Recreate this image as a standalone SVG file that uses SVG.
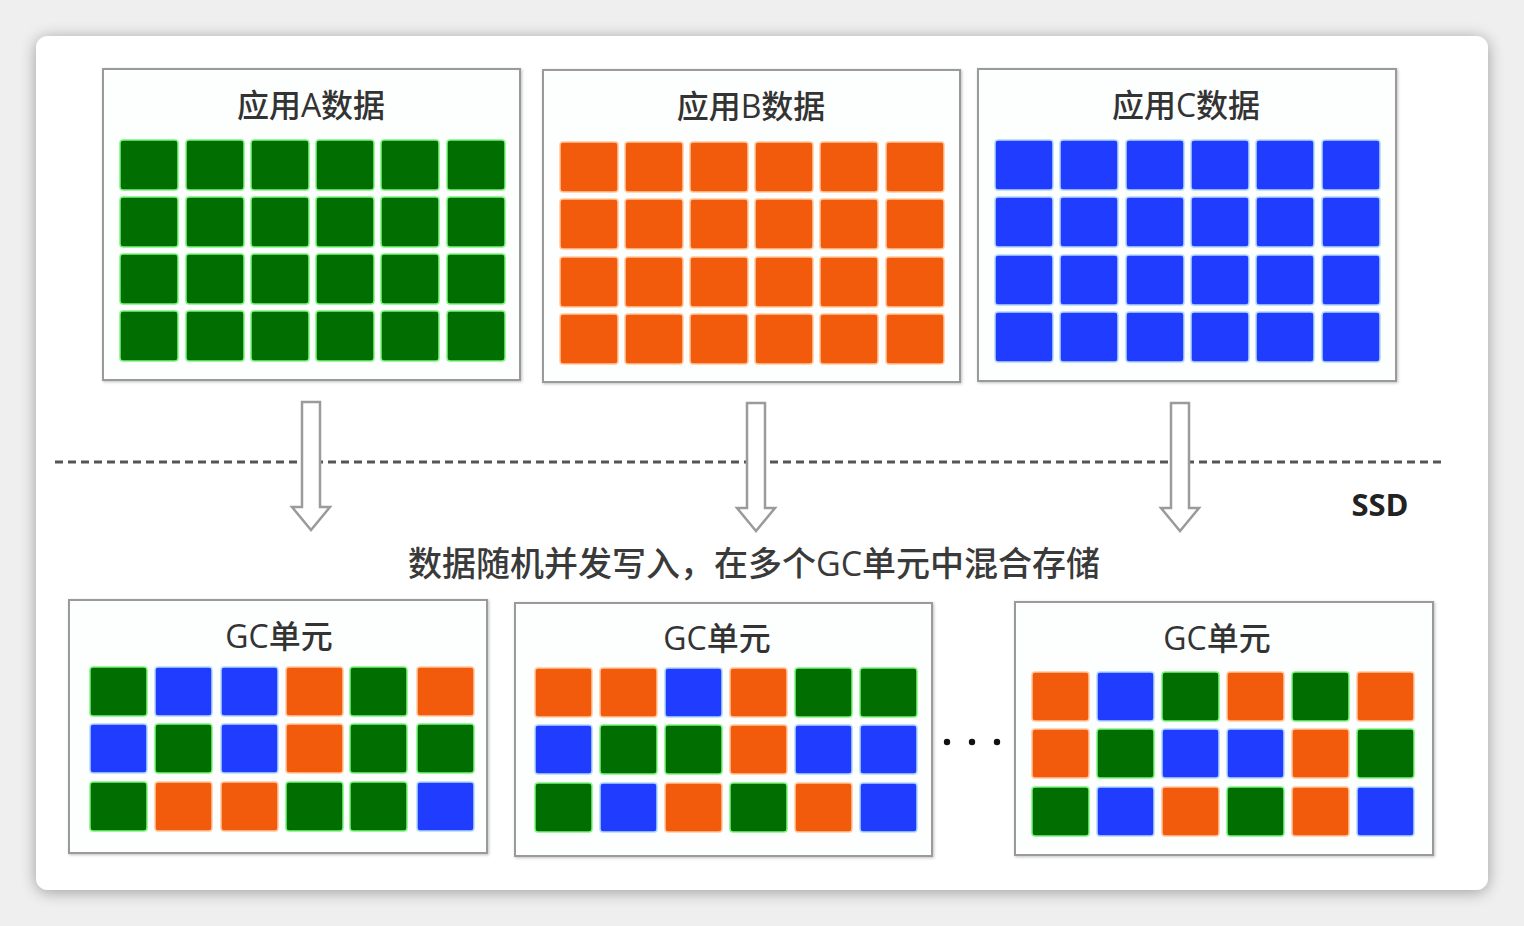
<svg xmlns="http://www.w3.org/2000/svg" width="1524" height="926" viewBox="0 0 1524 926">
<defs>
<filter id="sh" x="-5%" y="-5%" width="110%" height="110%">
<feGaussianBlur in="SourceAlpha" stdDeviation="8"/>
<feOffset dy="2"/>
<feComponentTransfer><feFuncA type="linear" slope="0.35"/></feComponentTransfer>
<feMerge><feMergeNode/><feMergeNode in="SourceGraphic"/></feMerge>
</filter>
<filter id="bs" x="-5%" y="-5%" width="110%" height="110%">
<feGaussianBlur in="SourceAlpha" stdDeviation="1.5"/>
<feOffset dx="1" dy="1"/>
<feComponentTransfer><feFuncA type="linear" slope="0.25"/></feComponentTransfer>
<feMerge><feMergeNode/><feMergeNode in="SourceGraphic"/></feMerge>
</filter>
</defs>
<style>
.box{fill:#fdfefe;stroke:#9a9a9a;stroke-width:2}
.g{fill:#006e00;stroke:#7cf57c;stroke-width:1.5}
.o{fill:#f25a0c;stroke:#ffc79a;stroke-width:1.5}
.b{fill:#1f3cff;stroke:#b0d8ff;stroke-width:1.5}
.t{font-family:"Open Sans","Noto Sans CJK SC",sans-serif;fill:#333;text-anchor:middle}
.title{font-size:32px;font-weight:500}
.arrow{fill:#fff;stroke:#9b9b9b;stroke-width:2.5}
.dash{stroke:#555;stroke-width:3;stroke-dasharray:8 5;fill:none}
</style>
<rect x="0" y="0" width="1524" height="926" fill="#efefef"/>
<rect id="card" x="36" y="36" width="1452" height="854" rx="12" fill="#ffffff" filter="url(#sh)"/>

<g id="connectors">
<line class="dash" x1="55" y1="462" x2="1442" y2="462"/>
<path class="arrow" d="M302,402 H320 V507 H330 L311,530 L292,507 H302 Z"/>
<path class="arrow" d="M747,403 H765 V508 H775 L756,531 L737,508 H747 Z"/>
<path class="arrow" d="M1171,403 H1189 V508 H1199 L1180,531 L1161,508 H1171 Z"/>
</g>

<g id="ssd-label"><text class="t" x="1380" y="516" font-size="31" font-weight="bold" style="fill:#222">SSD</text></g>
<g id="caption"><text class="t" x="754" y="576" font-size="34" font-weight="500" style="fill:#3a3a3a">数据随机并发写入，在多个GC单元中混合存储</text></g>

<g id="appA">
<rect class="box" x="103" y="69" width="417" height="311" filter="url(#bs)"/>
<text class="t title" x="311" y="117">应用A数据</text>
<g>
<rect class="g" x="120" y="140" width="58" height="50" rx="3"/><rect class="g" x="186" y="140" width="58" height="50" rx="3"/><rect class="g" x="251" y="140" width="58" height="50" rx="3"/><rect class="g" x="316" y="140" width="58" height="50" rx="3"/><rect class="g" x="381" y="140" width="58" height="50" rx="3"/><rect class="g" x="447" y="140" width="58" height="50" rx="3"/>
<rect class="g" x="120" y="197" width="58" height="50" rx="3"/><rect class="g" x="186" y="197" width="58" height="50" rx="3"/><rect class="g" x="251" y="197" width="58" height="50" rx="3"/><rect class="g" x="316" y="197" width="58" height="50" rx="3"/><rect class="g" x="381" y="197" width="58" height="50" rx="3"/><rect class="g" x="447" y="197" width="58" height="50" rx="3"/>
<rect class="g" x="120" y="254" width="58" height="50" rx="3"/><rect class="g" x="186" y="254" width="58" height="50" rx="3"/><rect class="g" x="251" y="254" width="58" height="50" rx="3"/><rect class="g" x="316" y="254" width="58" height="50" rx="3"/><rect class="g" x="381" y="254" width="58" height="50" rx="3"/><rect class="g" x="447" y="254" width="58" height="50" rx="3"/>
<rect class="g" x="120" y="311" width="58" height="50" rx="3"/><rect class="g" x="186" y="311" width="58" height="50" rx="3"/><rect class="g" x="251" y="311" width="58" height="50" rx="3"/><rect class="g" x="316" y="311" width="58" height="50" rx="3"/><rect class="g" x="381" y="311" width="58" height="50" rx="3"/><rect class="g" x="447" y="311" width="58" height="50" rx="3"/>
</g>
</g>

<g id="appB">
<rect class="box" x="543" y="70" width="417" height="312" filter="url(#bs)"/>
<text class="t title" x="751" y="118">应用B数据</text>
<g>
<rect class="o" x="560" y="142" width="58" height="50" rx="3"/><rect class="o" x="625" y="142" width="58" height="50" rx="3"/><rect class="o" x="690" y="142" width="58" height="50" rx="3"/><rect class="o" x="755" y="142" width="58" height="50" rx="3"/><rect class="o" x="820" y="142" width="58" height="50" rx="3"/><rect class="o" x="886" y="142" width="58" height="50" rx="3"/>
<rect class="o" x="560" y="199" width="58" height="50" rx="3"/><rect class="o" x="625" y="199" width="58" height="50" rx="3"/><rect class="o" x="690" y="199" width="58" height="50" rx="3"/><rect class="o" x="755" y="199" width="58" height="50" rx="3"/><rect class="o" x="820" y="199" width="58" height="50" rx="3"/><rect class="o" x="886" y="199" width="58" height="50" rx="3"/>
<rect class="o" x="560" y="257" width="58" height="50" rx="3"/><rect class="o" x="625" y="257" width="58" height="50" rx="3"/><rect class="o" x="690" y="257" width="58" height="50" rx="3"/><rect class="o" x="755" y="257" width="58" height="50" rx="3"/><rect class="o" x="820" y="257" width="58" height="50" rx="3"/><rect class="o" x="886" y="257" width="58" height="50" rx="3"/>
<rect class="o" x="560" y="314" width="58" height="50" rx="3"/><rect class="o" x="625" y="314" width="58" height="50" rx="3"/><rect class="o" x="690" y="314" width="58" height="50" rx="3"/><rect class="o" x="755" y="314" width="58" height="50" rx="3"/><rect class="o" x="820" y="314" width="58" height="50" rx="3"/><rect class="o" x="886" y="314" width="58" height="50" rx="3"/>
</g>
</g>

<g id="appC">
<rect class="box" x="978" y="69" width="418" height="312" filter="url(#bs)"/>
<text class="t title" x="1186" y="117">应用C数据</text>
<g>
<rect class="b" x="995" y="140" width="58" height="50" rx="3"/><rect class="b" x="1060" y="140" width="58" height="50" rx="3"/><rect class="b" x="1126" y="140" width="58" height="50" rx="3"/><rect class="b" x="1191" y="140" width="58" height="50" rx="3"/><rect class="b" x="1256" y="140" width="58" height="50" rx="3"/><rect class="b" x="1322" y="140" width="58" height="50" rx="3"/>
<rect class="b" x="995" y="197" width="58" height="50" rx="3"/><rect class="b" x="1060" y="197" width="58" height="50" rx="3"/><rect class="b" x="1126" y="197" width="58" height="50" rx="3"/><rect class="b" x="1191" y="197" width="58" height="50" rx="3"/><rect class="b" x="1256" y="197" width="58" height="50" rx="3"/><rect class="b" x="1322" y="197" width="58" height="50" rx="3"/>
<rect class="b" x="995" y="255" width="58" height="50" rx="3"/><rect class="b" x="1060" y="255" width="58" height="50" rx="3"/><rect class="b" x="1126" y="255" width="58" height="50" rx="3"/><rect class="b" x="1191" y="255" width="58" height="50" rx="3"/><rect class="b" x="1256" y="255" width="58" height="50" rx="3"/><rect class="b" x="1322" y="255" width="58" height="50" rx="3"/>
<rect class="b" x="995" y="312" width="58" height="50" rx="3"/><rect class="b" x="1060" y="312" width="58" height="50" rx="3"/><rect class="b" x="1126" y="312" width="58" height="50" rx="3"/><rect class="b" x="1191" y="312" width="58" height="50" rx="3"/><rect class="b" x="1256" y="312" width="58" height="50" rx="3"/><rect class="b" x="1322" y="312" width="58" height="50" rx="3"/>
</g>
</g>

<g id="gc1">
<rect class="box" x="69" y="600" width="418" height="253" filter="url(#bs)"/>
<text class="t title" x="279" y="648">GC单元</text>
<g>
<rect class="g" x="90" y="667" width="57" height="49" rx="3"/><rect class="b" x="155" y="667" width="57" height="49" rx="3"/><rect class="b" x="221" y="667" width="57" height="49" rx="3"/><rect class="o" x="286" y="667" width="57" height="49" rx="3"/><rect class="g" x="350" y="667" width="57" height="49" rx="3"/><rect class="o" x="417" y="667" width="57" height="49" rx="3"/>
<rect class="b" x="90" y="724" width="57" height="49" rx="3"/><rect class="g" x="155" y="724" width="57" height="49" rx="3"/><rect class="b" x="221" y="724" width="57" height="49" rx="3"/><rect class="o" x="286" y="724" width="57" height="49" rx="3"/><rect class="g" x="350" y="724" width="57" height="49" rx="3"/><rect class="g" x="417" y="724" width="57" height="49" rx="3"/>
<rect class="g" x="90" y="782" width="57" height="49" rx="3"/><rect class="o" x="155" y="782" width="57" height="49" rx="3"/><rect class="o" x="221" y="782" width="57" height="49" rx="3"/><rect class="g" x="286" y="782" width="57" height="49" rx="3"/><rect class="g" x="350" y="782" width="57" height="49" rx="3"/><rect class="b" x="417" y="782" width="57" height="49" rx="3"/>
</g>
</g>

<g id="gc2">
<rect class="box" x="515" y="603" width="417" height="253" filter="url(#bs)"/>
<text class="t title" x="717" y="650">GC单元</text>
<g>
<rect class="o" x="535" y="668" width="57" height="49" rx="3"/><rect class="o" x="600" y="668" width="57" height="49" rx="3"/><rect class="b" x="665" y="668" width="57" height="49" rx="3"/><rect class="o" x="730" y="668" width="57" height="49" rx="3"/><rect class="g" x="795" y="668" width="57" height="49" rx="3"/><rect class="g" x="860" y="668" width="57" height="49" rx="3"/>
<rect class="b" x="535" y="725" width="57" height="49" rx="3"/><rect class="g" x="600" y="725" width="57" height="49" rx="3"/><rect class="g" x="665" y="725" width="57" height="49" rx="3"/><rect class="o" x="730" y="725" width="57" height="49" rx="3"/><rect class="b" x="795" y="725" width="57" height="49" rx="3"/><rect class="b" x="860" y="725" width="57" height="49" rx="3"/>
<rect class="g" x="535" y="783" width="57" height="49" rx="3"/><rect class="b" x="600" y="783" width="57" height="49" rx="3"/><rect class="o" x="665" y="783" width="57" height="49" rx="3"/><rect class="g" x="730" y="783" width="57" height="49" rx="3"/><rect class="o" x="795" y="783" width="57" height="49" rx="3"/><rect class="b" x="860" y="783" width="57" height="49" rx="3"/>
</g>
</g>

<g id="ellipsis">
<circle cx="947" cy="742" r="3.2" fill="#111"/><circle cx="972" cy="742" r="3.2" fill="#111"/><circle cx="997" cy="742" r="3.2" fill="#111"/>
</g>

<g id="gc3">
<rect class="box" x="1015" y="602" width="418" height="253" filter="url(#bs)"/>
<text class="t title" x="1217" y="650">GC单元</text>
<g>
<rect class="o" x="1032" y="672" width="57" height="49" rx="3"/><rect class="b" x="1097" y="672" width="57" height="49" rx="3"/><rect class="g" x="1162" y="672" width="57" height="49" rx="3"/><rect class="o" x="1227" y="672" width="57" height="49" rx="3"/><rect class="g" x="1292" y="672" width="57" height="49" rx="3"/><rect class="o" x="1357" y="672" width="57" height="49" rx="3"/>
<rect class="o" x="1032" y="729" width="57" height="49" rx="3"/><rect class="g" x="1097" y="729" width="57" height="49" rx="3"/><rect class="b" x="1162" y="729" width="57" height="49" rx="3"/><rect class="b" x="1227" y="729" width="57" height="49" rx="3"/><rect class="o" x="1292" y="729" width="57" height="49" rx="3"/><rect class="g" x="1357" y="729" width="57" height="49" rx="3"/>
<rect class="g" x="1032" y="787" width="57" height="49" rx="3"/><rect class="b" x="1097" y="787" width="57" height="49" rx="3"/><rect class="o" x="1162" y="787" width="57" height="49" rx="3"/><rect class="g" x="1227" y="787" width="57" height="49" rx="3"/><rect class="o" x="1292" y="787" width="57" height="49" rx="3"/><rect class="b" x="1357" y="787" width="57" height="49" rx="3"/>
</g>
</g>
</svg>
